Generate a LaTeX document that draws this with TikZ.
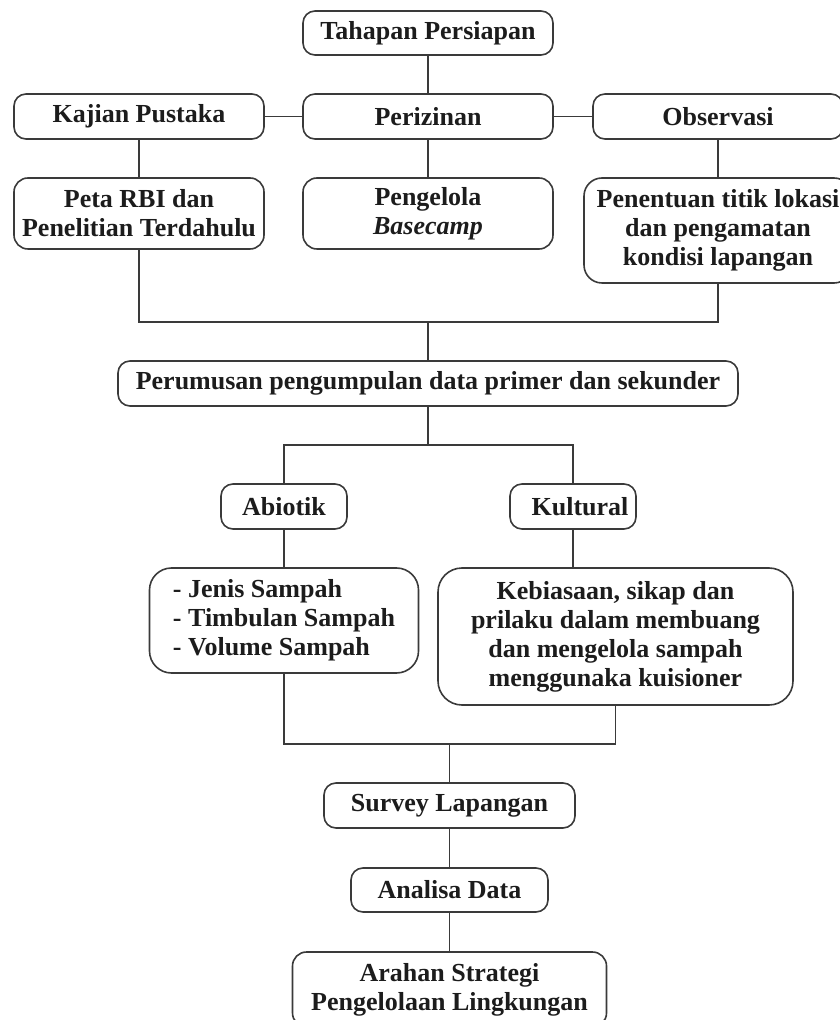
\documentclass[tikz,border=0pt]{standalone}
\usepackage{fontspec}
\setmainfont{Liberation Serif}
\usetikzlibrary{positioning}
\definecolor{abu}{HTML}{3A3A3A}
\definecolor{hitam}{HTML}{1C1C1C}
\tikzset{
	node distance=19.5pt, % Distancia minima entre cajas
	kotak/.style={draw=abu, line width=0.8pt, rounded corners=6pt, align=center, inner sep=0pt, outer sep=0pt, text=hitam, font=\bfseries\fontsize{13}{14.5}\selectfont}, % Propiedades de las cajas
	garis/.style={draw=abu, line width=0.8pt} % Lineas que unen las cajas
}

\begin{document}
\begin{tikzpicture}
	\useasboundingbox (0,0) rectangle (419.5pt,-510pt);
	\node[kotak, minimum width=125pt, minimum height=22pt] (tahapan) at (214pt,-16.5pt) {Tahapan Persiapan};
	\node[kotak, minimum width=125pt, minimum height=22.5pt, below=of tahapan] (perizinan) {Perizinan};
	\node[kotak, minimum width=125pt, minimum height=22.5pt, left=of perizinan] (kajian) {Kajian Pustaka};
	\node[kotak, minimum width=125pt, minimum height=22.5pt, right=20pt of perizinan] (observasi) {Observasi};
	\node[kotak, minimum width=125pt, minimum height=35.5pt, rounded corners=7pt, below=of kajian] (peta) {Peta RBI dan\\Penelitian Terdahulu};
	\node[kotak, minimum width=125pt, minimum height=35.5pt, rounded corners=7pt, below=of perizinan] (pengelola) {Pengelola\\\textit{Basecamp}};
	\node[kotak, minimum width=134pt, minimum height=52.5pt, rounded corners=9pt, below=of observasi] (penentuan) {Penentuan titik lokasi\\dan pengamatan\\kondisi lapangan};
	\node[kotak, minimum width=310pt, minimum height=22.5pt, below=56pt of pengelola] (perumusan) {Perumusan pengumpulan data primer dan sekunder};
	\node[kotak, minimum width=63pt, minimum height=22.5pt, below=39pt of perumusan, xshift=-72pt] (abiotik) {Abiotik};
	\node[kotak, minimum width=63pt, minimum height=22.5pt, below=39pt of perumusan, xshift=72.5pt] (kultural) {\hspace{7pt}Kultural};
	\node[kotak, minimum width=134.5pt, minimum height=52.5pt, rounded corners=11pt, align=left, below=of abiotik] (jenis) {- Jenis Sampah\\- Timbulan Sampah\\- Volume Sampah};
	\node[kotak, minimum width=177.5pt, minimum height=68.5pt, rounded corners=12pt, below=of kultural, xshift=21.25pt] (kebiasaan) {Kebiasaan, sikap dan\\prilaku dalam membuang\\dan mengelola sampah\\menggunaka kuisioner};
	\node[kotak, minimum width=125.5pt, minimum height=22.5pt, below=39pt of kebiasaan, xshift=-83pt] (survey) {Survey Lapangan};
	\node[kotak, minimum width=98.5pt, minimum height=22pt, below=20pt of survey] (analisa) {Analisa Data};
	\node[kotak, minimum width=157pt, minimum height=37.5pt, rounded corners=7pt, below=20pt of analisa] (arahan) {Arahan Strategi\\Pengelolaan Lingkungan};

	\coordinate[above=19.5pt of perumusan] (gabung1);
	\coordinate[below=19.5pt of perumusan] (gabung2);
	\coordinate[above=19.5pt of survey] (gabung3);

	\draw[garis] (tahapan) -- (perizinan);
	\draw[garis] (kajian) -- (perizinan) -- (observasi);
	\draw[garis] (kajian) -- (peta);
	\draw[garis] (perizinan) -- (pengelola);
	\draw[garis] (observasi) -- (penentuan);
	\draw[garis] (peta) |- (gabung1) -| (penentuan);
	\draw[garis] (gabung1) -- (perumusan);
	\draw[garis] (perumusan) -- (gabung2);
	\draw[garis] (abiotik) |- (gabung2) -| (kultural);
	\draw[garis] (abiotik) -- (jenis);
	\draw[garis] (kultural) -- (kultural.south |- kebiasaan.north);
	\draw[garis] (jenis) |- (gabung3) -| (kebiasaan);
	\draw[garis] (gabung3) -- (survey);
	\draw[garis] (survey) -- (analisa);
	\draw[garis] (analisa) -- (arahan);
\end{tikzpicture}
\end{document}
